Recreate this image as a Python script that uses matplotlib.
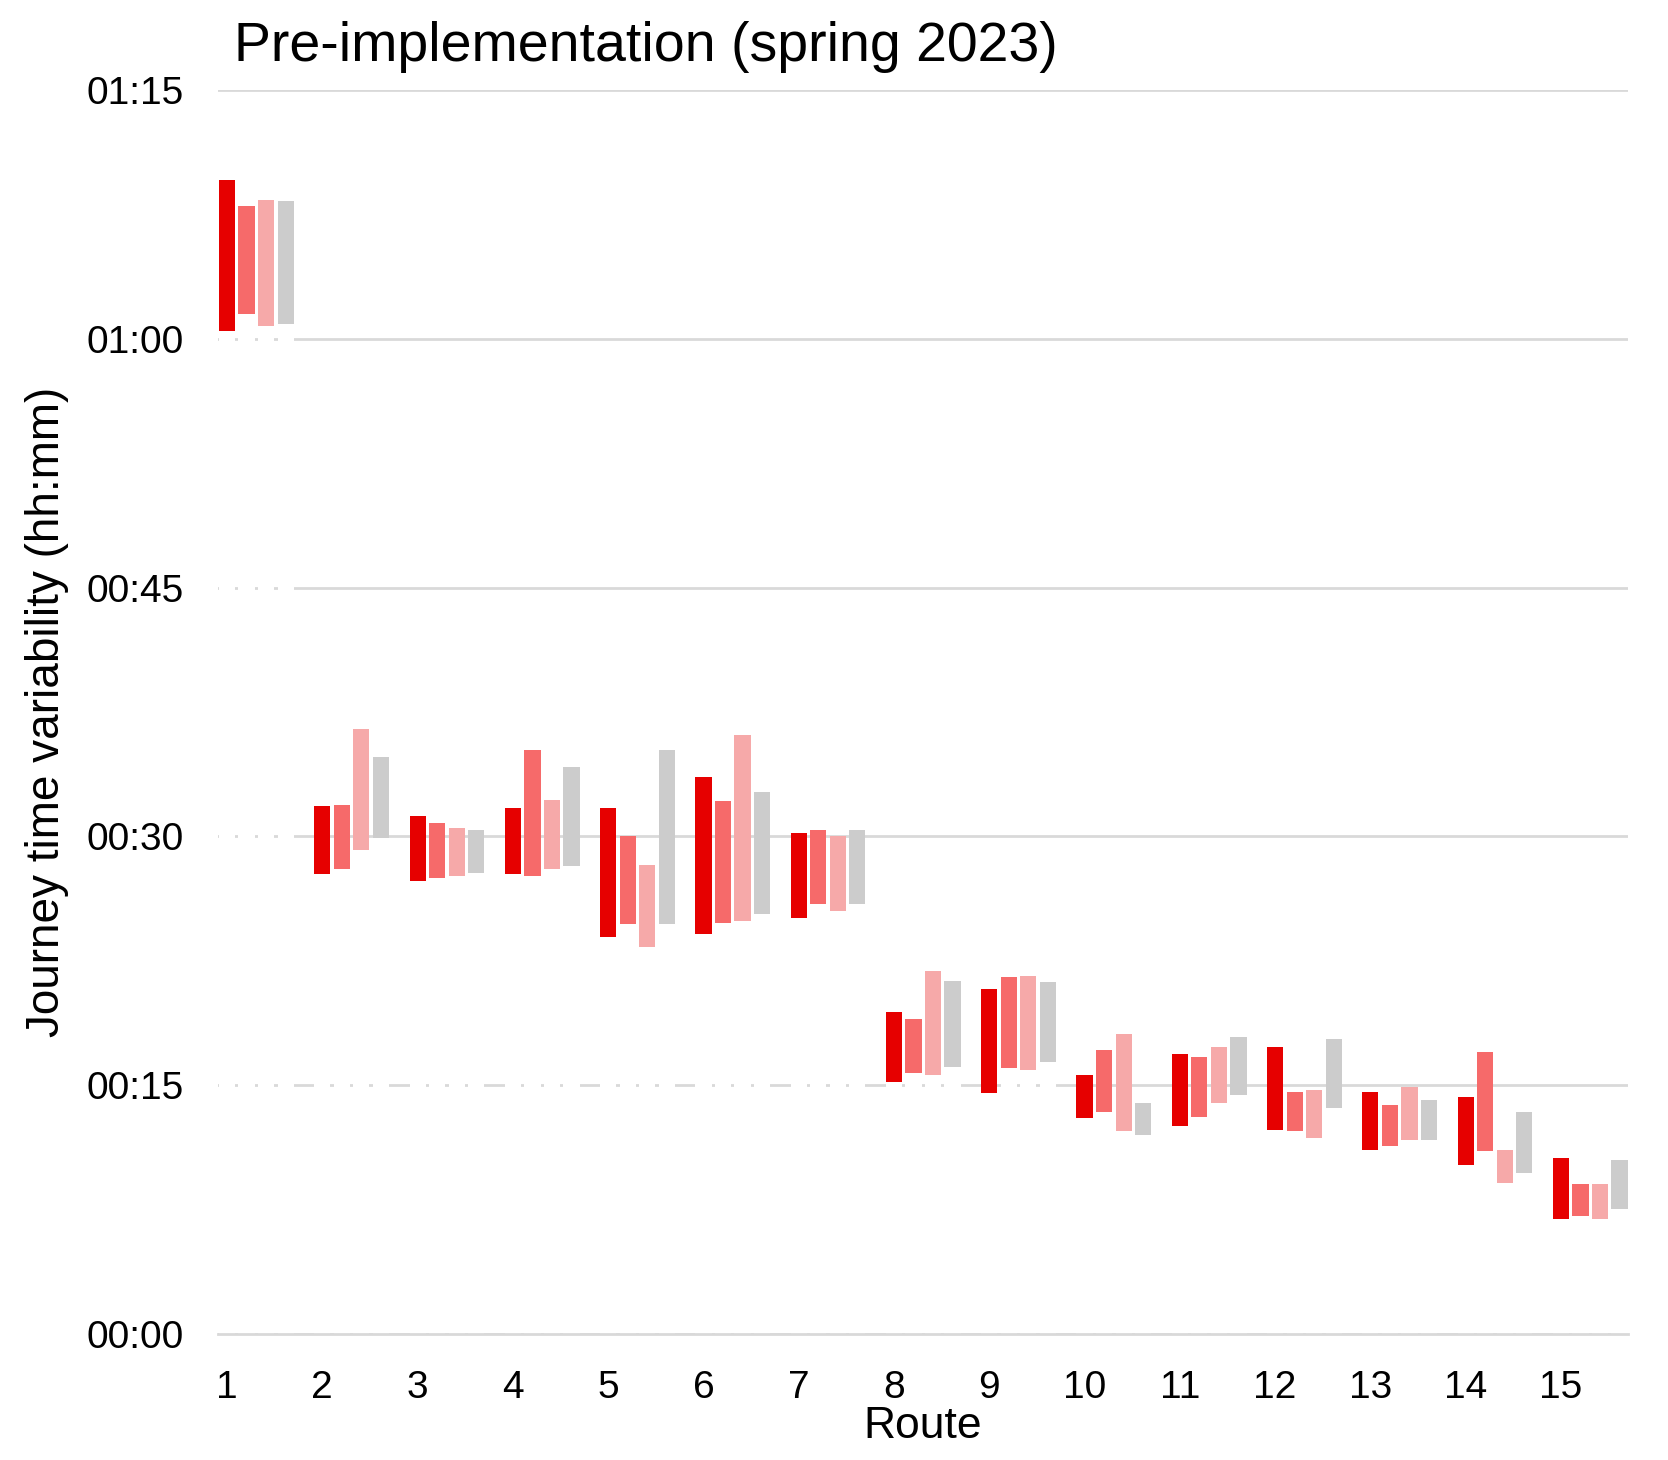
# Journey time variability per route, pre-implementation (spring 2023)
# Floating bars: each bar runs from a low to a high journey time (minutes)

import numpy as np
import matplotlib.pyplot as plt
from matplotlib.ticker import FuncFormatter

plt.rcParams['font.family'] = ['Liberation Sans', 'DejaVu Sans']

routes = list(range(1, 16))

# four series per route, low / high in minutes
low_1 = [60.5, 27.7, 27.3, 27.7, 23.9, 24.1, 25.1, 15.2, 14.5, 13.0, 12.5, 12.3, 11.1, 10.2, 6.9]
high_1 = [69.6, 31.8, 31.2, 31.7, 31.7, 33.6, 30.2, 19.4, 20.8, 15.6, 16.9, 17.3, 14.6, 14.3, 10.6]
low_2 = [61.5, 28.0, 27.5, 27.6, 24.7, 24.8, 25.9, 15.7, 16.0, 13.4, 13.1, 12.2, 11.3, 11.0, 7.1]
high_2 = [68.0, 31.9, 30.8, 35.2, 30.0, 32.1, 30.4, 19.0, 21.5, 17.1, 16.7, 14.6, 13.8, 17.0, 9.0]
low_3 = [60.8, 29.2, 27.6, 28.0, 23.3, 24.9, 25.5, 15.6, 15.9, 12.2, 13.9, 11.8, 11.7, 9.1, 6.9]
high_3 = [68.4, 36.5, 30.5, 32.2, 28.3, 36.1, 30.0, 21.9, 21.6, 18.1, 17.3, 14.7, 14.9, 11.1, 9.0]
low_4 = [60.9, 29.9, 27.8, 28.2, 24.7, 25.3, 25.9, 16.1, 16.4, 12.0, 14.4, 13.6, 11.7, 9.7, 7.5]
high_4 = [68.3, 34.8, 30.4, 34.2, 35.2, 32.7, 30.4, 21.3, 21.2, 13.9, 17.9, 17.8, 14.1, 13.4, 10.5]

lows = [low_1, low_2, low_3, low_4]
highs = [high_1, high_2, high_3, high_4]
colors = ['#e60000', '#f66a6a', '#f6a9a9', '#cccccc']

y_ticks = [0, 15, 30, 45, 60, 75]

fig = plt.figure(figsize=(16.68, 14.6), dpi=100)
ax = fig.add_axes([0.1307, 0.0865, 0.8451, 0.8517])

x = np.array(routes, dtype=float)
step = 0.205
width = 0.17

for i in range(4):
    lo = np.array(lows[i])
    hi = np.array(highs[i])
    # white base bar hides the gridlines underneath (as in the original)
    ax.bar(x + i * step, lo, width=width, color='white', zorder=2)
    ax.bar(x + i * step, hi - lo, bottom=lo, width=width, color=colors[i], zorder=3)

ax.set_xlim(0.905, 15.70)
ax.set_ylim(0, 75)
ax.set_xticks(routes)
ax.set_yticks(y_ticks)
ax.yaxis.set_major_formatter(FuncFormatter(lambda v, p: '%02d:%02d' % (int(v) // 60, int(v) % 60)))

ax.set_axisbelow(True)
ax.grid(axis='y', color='#d9d9d9', linewidth=2.0)
ax.grid(axis='x', visible=False)
# baseline stays visible over the white base bars
ax.axhline(0, color='#d9d9d9', linewidth=2.0, zorder=2.5, clip_on=False)
for s in ax.spines.values():
    s.set_visible(False)

ax.tick_params(axis='both', length=0, labelsize=28)
ax.tick_params(axis='y', pad=25)
ax.tick_params(axis='x', pad=26)

ax.set_xlabel('Route', fontsize=32)
ax.xaxis.set_label_coords(0.5, -0.058)
ax.set_ylabel('Journey time variability (hh:mm)', fontsize=33)
ax.yaxis.set_label_coords(-0.106, 0.5)

fig.text(234 / 1668, 1 - 47 / 1460, 'Pre-implementation (spring 2023)',
         fontsize=40, ha='left', va='center')

plt.savefig('out.png', dpi=100)
